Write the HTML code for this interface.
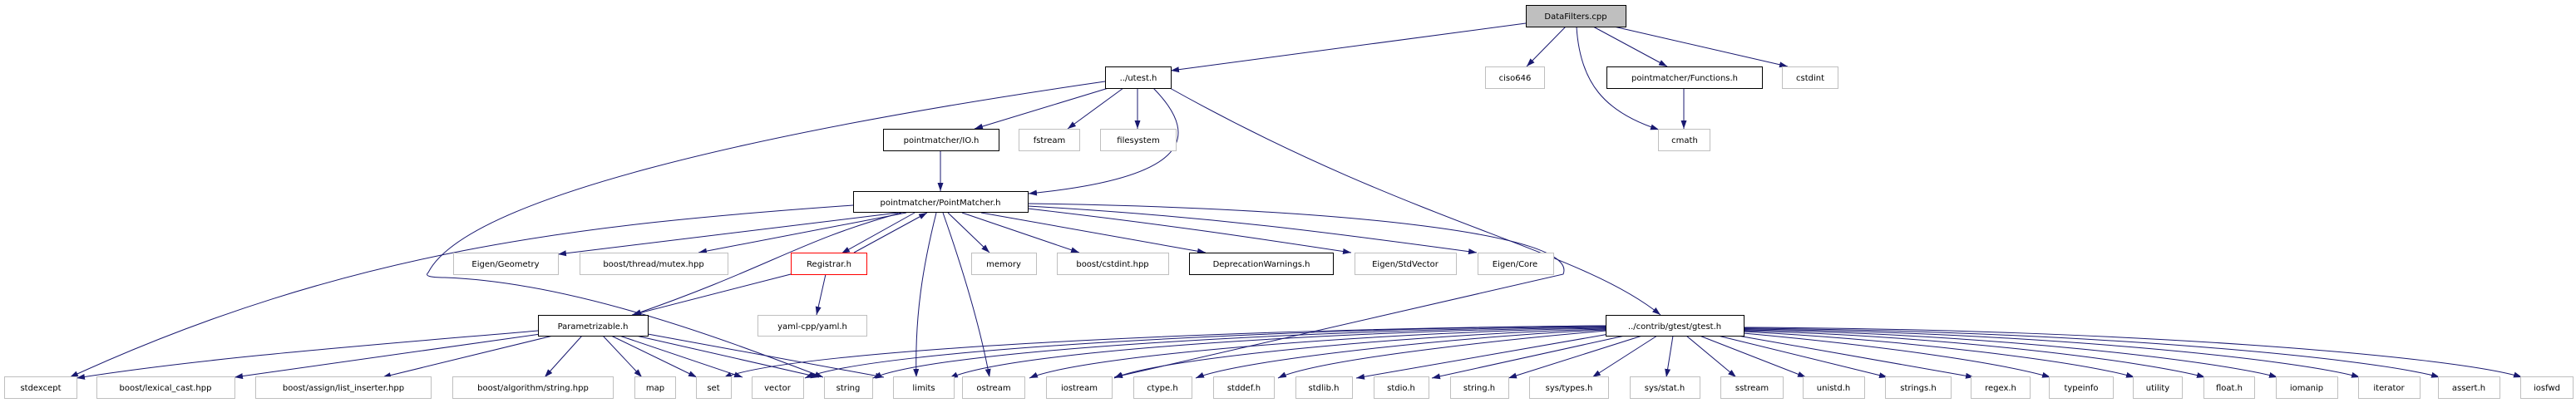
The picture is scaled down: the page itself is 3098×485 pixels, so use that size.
<!DOCTYPE html>
<html><head><meta charset="utf-8"><style>
html,body{margin:0;padding:0;background:#fff;}
svg{display:block;}
text{font-family:"DejaVu Sans","Liberation Sans",sans-serif;font-size:10px;fill:#000;text-anchor:middle;}
.n{fill:#fff;stroke:#bfbfbf;stroke-width:1;}
.b{fill:#fff;stroke:#000;stroke-width:1;}
.e{fill:none;stroke:#191970;stroke-width:1;marker-end:url(#a);}
</style></head><body>
<svg width="3098" height="485" viewBox="0 0 3098 485" xmlns="http://www.w3.org/2000/svg">
<defs><marker id="a" markerUnits="userSpaceOnUse" markerWidth="10" markerHeight="8" refX="10" refY="3.5" orient="auto"><path d="M0,0 L10,3.5 L0,7 z" fill="#191970"/></marker></defs>
<rect width="3098" height="485" fill="#fff"/>
<g>
<!-- edges -->
<path class="e" d="M1835,28 L1408,85"/>
<path class="e" d="M1883,32 L1836,80"/>
<path class="e" d="M1916,32 L2005,80"/>
<path class="e" d="M1941,32 L2150,80"/>
<path class="e" d="M1896,32 C1900,100 1930,135 1995,156"/>
<path class="e" d="M2025,106 L2025,155"/>
<path class="e" d="M1329,98 C900,160 560,240 515,328 Q508,334 535,334 C700,340 900,420 990,454"/>
<path class="e" d="M1333,106 L1172,155"/>
<path class="e" d="M1351,106 L1284,155"/>
<path class="e" d="M1368,106 L1368,155"/>
<path class="e" d="M1387,106 C1450,170 1420,215 1237,233"/>
<path class="e" d="M1407,106 C1700,270 1900,300 1997,379"/>
<path class="e" d="M1131,181 L1131,230"/>
<path class="e" d="M1026,247 C700,270 420,300 84,454"/>
<path class="e" d="M1080,256 L671,306"/>
<path class="e" d="M1090,256 L840,304"/>
<path class="e" d="M1100,256 L1012,305"/>
<path class="e" d="M1027,304 L1115,256"/>
<path class="e" d="M1084,256 C960,290 930,320 761,379"/>
<path class="e" d="M951,330 L760,379"/>
<path class="e" d="M993,330 L982,379"/>
<path class="e" d="M1126,256 C1110,320 1100,380 1102,454"/>
<path class="e" d="M1134,256 C1160,330 1180,400 1190,454"/>
<path class="e" d="M1140,256 L1190,304"/>
<path class="e" d="M1157,256 L1298,304"/>
<path class="e" d="M1180,256 L1450,304"/>
<path class="e" d="M1236,251 C1400,270 1500,285 1625,304"/>
<path class="e" d="M1236,248 C1450,260 1600,280 1776,304"/>
<path class="e" d="M1236,245 C1600,250 1900,280 1880,330 L1340,454"/>
<!-- Parametrizable edges -->
<path class="e" d="M647,398 C450,415 250,430 92,455"/>
<path class="e" d="M650,402 L282,454"/>
<path class="e" d="M665,404 L460,454"/>
<path class="e" d="M700,404 L655,454"/>
<path class="e" d="M725,404 L772,454"/>
<path class="e" d="M735,404 L838,454"/>
<path class="e" d="M745,404 L893,454"/>
<path class="e" d="M765,404 L985,454"/>
<path class="e" d="M779,402 L1063,454"/>
<!-- gtest left edges -->
<path class="e" d="M1932,392 C1500,395 950,420 870,455"/>
<path class="e" d="M1932,392 C1550,395 1050,420 968,455"/>
<path class="e" d="M1932,393 C1600,396 1130,420 1050,455"/>
<path class="e" d="M1932,394 C1650,397 1220,420 1142,455"/>
<path class="e" d="M1932,395 C1700,398 1310,425 1238,455"/>
<path class="e" d="M1932,396 C1750,400 1400,428 1340,455"/>
<path class="e" d="M1932,397 C1800,402 1500,430 1438,455"/>
<path class="e" d="M1932,398 C1850,405 1590,430 1537,455"/>
<path class="e" d="M1935,402 L1631,455"/>
<path class="e" d="M1954,404 L1722,455"/>
<path class="e" d="M1975,404 L1814,455"/>
<path class="e" d="M1993,404 L1915,454"/>
<!-- gtest right edges -->
<path class="e" d="M2012,404 L2004,454"/>
<path class="e" d="M2028,404 L2088,454"/>
<path class="e" d="M2044,404 L2172,454"/>
<path class="e" d="M2066,404 L2270,454"/>
<path class="e" d="M2090,404 L2374,454"/>
<path class="e" d="M2097,401 C2250,415 2400,435 2466,454"/>
<path class="e" d="M2097,399 C2300,410 2500,435 2567,454"/>
<path class="e" d="M2097,398 C2350,405 2580,435 2652,454"/>
<path class="e" d="M2097,397 C2400,402 2670,435 2739,454"/>
<path class="e" d="M2097,396 C2450,400 2760,432 2838,454"/>
<path class="e" d="M2097,395 C2500,398 2850,430 2934,454"/>
<path class="e" d="M2097,394 C2550,396 2950,428 3033,454"/>
</g>
<g>
<!-- nodes -->
<rect x="1835.5" y="6.5" width="120" height="26" fill="#bfbfbf" stroke="#000"/><text x="1895" y="23">DataFilters.cpp</text>
<rect class="b" x="1329.5" y="80.5" width="79" height="26"/><text x="1369" y="97">../utest.h</text>
<rect class="n" x="1786.5" y="80.5" width="71" height="26"/><text x="1822" y="97">ciso646</text>
<rect class="b" x="1932.5" y="80.5" width="187" height="26"/><text x="2026" y="97">pointmatcher/Functions.h</text>
<rect class="n" x="2143.5" y="80.5" width="67" height="26"/><text x="2177" y="97">cstdint</text>
<rect class="b" x="1062.5" y="155.5" width="139" height="26"/><text x="1132" y="172">pointmatcher/IO.h</text>
<rect class="n" x="1225.5" y="155.5" width="73" height="26"/><text x="1262" y="172">fstream</text>
<rect class="n" x="1323.5" y="155.5" width="91" height="26"/><text x="1369" y="172">filesystem</text>
<rect class="n" x="1994.5" y="155.5" width="62" height="26"/><text x="2026" y="172">cmath</text>
<rect class="b" x="1026.5" y="230.5" width="210" height="25"/><text x="1131" y="247">pointmatcher/PointMatcher.h</text>
<rect class="n" x="545.5" y="304.5" width="126" height="26"/><text x="608" y="321">Eigen/Geometry</text>
<rect class="n" x="697.5" y="304.5" width="178" height="26"/><text x="786" y="321">boost/thread/mutex.hpp</text>
<rect x="951.5" y="304.5" width="91" height="26" fill="#fff" stroke="#ff0000"/><text x="997" y="321">Registrar.h</text>
<rect class="n" x="1168.5" y="304.5" width="78" height="26"/><text x="1207" y="321">memory</text>
<rect class="n" x="1271.5" y="304.5" width="134" height="26"/><text x="1338" y="321">boost/cstdint.hpp</text>
<rect class="b" x="1430.5" y="304.5" width="173" height="26"/><text x="1517" y="321">DeprecationWarnings.h</text>
<rect class="n" x="1629.5" y="304.5" width="122" height="26"/><text x="1690" y="321">Eigen/StdVector</text>
<rect class="n" x="1777.5" y="304.5" width="91" height="26"/><text x="1822" y="321">Eigen/Core</text>
<rect class="b" x="647.5" y="379.5" width="132" height="25"/><text x="713" y="396">Parametrizable.h</text>
<rect class="n" x="911.5" y="379.5" width="131" height="25"/><text x="977" y="396">yaml-cpp/yaml.h</text>
<rect class="b" x="1931.5" y="379.5" width="166" height="25"/><text x="2014" y="396">../contrib/gtest/gtest.h</text>
<!-- bottom row -->
<rect class="n" x="5.5" y="453.5" width="87" height="26"/><text x="49" y="470">stdexcept</text>
<rect class="n" x="116.5" y="453.5" width="166" height="26"/><text x="199" y="470">boost/lexical_cast.hpp</text>
<rect class="n" x="307.5" y="453.5" width="211" height="26"/><text x="413" y="470">boost/assign/list_inserter.hpp</text>
<rect class="n" x="544.5" y="453.5" width="193" height="26"/><text x="641" y="470">boost/algorithm/string.hpp</text>
<rect class="n" x="763.5" y="453.5" width="49" height="26"/><text x="788" y="470">map</text>
<rect class="n" x="837.5" y="453.5" width="42" height="26"/><text x="858" y="470">set</text>
<rect class="n" x="904.5" y="453.5" width="62" height="26"/><text x="935" y="470">vector</text>
<rect class="n" x="991.5" y="453.5" width="58" height="26"/><text x="1020" y="470">string</text>
<rect class="n" x="1074.5" y="453.5" width="73" height="26"/><text x="1111" y="470">limits</text>
<rect class="n" x="1157.5" y="453.5" width="75" height="26"/><text x="1195" y="470">ostream</text>
<rect class="n" x="1258.5" y="453.5" width="79" height="26"/><text x="1298" y="470">iostream</text>
<rect class="n" x="1363.5" y="453.5" width="70" height="26"/><text x="1398" y="470">ctype.h</text>
<rect class="n" x="1459.5" y="453.5" width="73" height="26"/><text x="1496" y="470">stddef.h</text>
<rect class="n" x="1558.5" y="453.5" width="68" height="26"/><text x="1592" y="470">stdlib.h</text>
<rect class="n" x="1652.5" y="453.5" width="66" height="26"/><text x="1685" y="470">stdio.h</text>
<rect class="n" x="1744.5" y="453.5" width="70" height="26"/><text x="1779" y="470">string.h</text>
<rect class="n" x="1839.5" y="453.5" width="95" height="26"/><text x="1887" y="470">sys/types.h</text>
<rect class="n" x="1960.5" y="453.5" width="84" height="26"/><text x="2002" y="470">sys/stat.h</text>
<rect class="n" x="2069.5" y="453.5" width="75" height="26"/><text x="2107" y="470">sstream</text>
<rect class="n" x="2168.5" y="453.5" width="74" height="26"/><text x="2205" y="470">unistd.h</text>
<rect class="n" x="2267.5" y="453.5" width="79" height="26"/><text x="2307" y="470">strings.h</text>
<rect class="n" x="2370.5" y="453.5" width="71" height="26"/><text x="2406" y="470">regex.h</text>
<rect class="n" x="2464.5" y="453.5" width="77" height="26"/><text x="2503" y="470">typeinfo</text>
<rect class="n" x="2565.5" y="453.5" width="59" height="26"/><text x="2595" y="470">utility</text>
<rect class="n" x="2650.5" y="453.5" width="61" height="26"/><text x="2681" y="470">float.h</text>
<rect class="n" x="2737.5" y="453.5" width="74" height="26"/><text x="2774" y="470">iomanip</text>
<rect class="n" x="2836.5" y="453.5" width="74" height="26"/><text x="2873" y="470">iterator</text>
<rect class="n" x="2932.5" y="453.5" width="74" height="26"/><text x="2969" y="470">assert.h</text>
<rect class="n" x="3031.5" y="453.5" width="63" height="26"/><text x="3063" y="470">iosfwd</text>
</g>
</svg>
</body></html>
